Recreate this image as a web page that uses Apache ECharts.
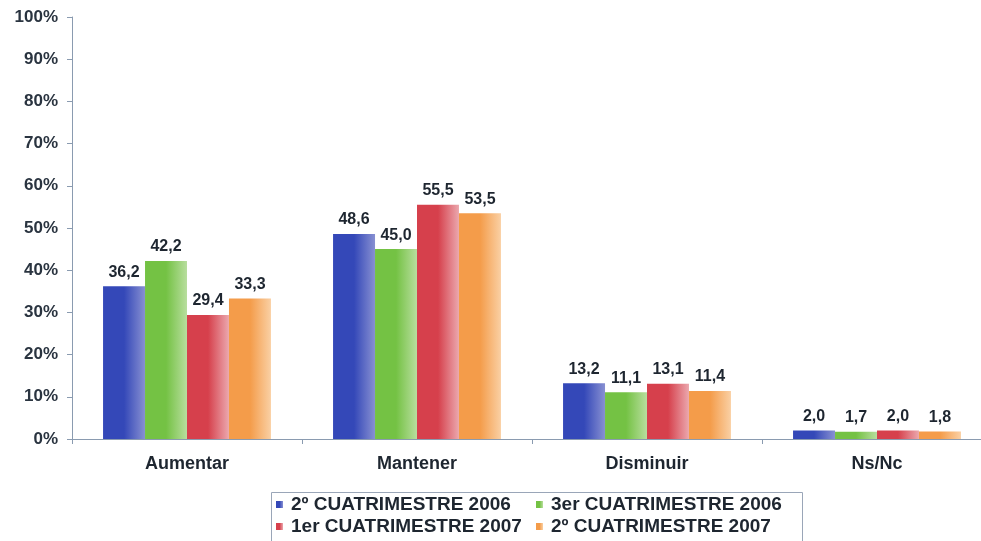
<!DOCTYPE html>
<html>
<head>
<meta charset="utf-8">
<script src="https://cdn.jsdelivr.net/npm/echarts@6/dist/echarts.min.js"></script>
<style>
  html, body { margin: 0; padding: 0; background: #fff; overflow: hidden; }
  #chart { width: 992px; height: 541px; }
</style>
</head>
<body>
<div id="chart"></div>
<script>
var categories = ['Aumentar', 'Mantener', 'Disminuir', 'Ns/Nc'];
var seriesNames = ['2º CUATRIMESTRE 2006', '3er CUATRIMESTRE 2006', '1er CUATRIMESTRE 2007', '2º CUATRIMESTRE 2007'];
var cuat2_2006 = [36.2, 48.6, 13.2, 2.0];
var cuat3_2006 = [42.2, 45.0, 11.1, 1.7];
var cuat1_2007 = [29.4, 55.5, 13.1, 2.0];
var cuat2_2007 = [33.3, 53.5, 11.4, 1.8];
var seriesValues = [cuat2_2006, cuat3_2006, cuat1_2007, cuat2_2007];

var colors = ['#3448b8', '#74c244', '#d6404c', '#f49c4a'];
var lightColors = ['#8890d2', '#b8de9e', '#eba8ae', '#fad0a4'];

function grad(i) {
	return new echarts.graphic.LinearGradient(0, 0, 1, 0, [
		{ offset: 0, color: colors[i] },
		{ offset: 0.5, color: colors[i] },
		{ offset: 1, color: lightColors[i] }
	]);
}

var seriesData = [];
seriesNames.forEach(function (name, i) {
	seriesData.push({
		name: name,
		type: 'bar',
		barGap: '0%',
		barCategoryGap: '27%',
		data: seriesValues[i],
		itemStyle: { color: grad(i) },
		label: {
			show: true,
			position: 'top',
			distance: 6,
			color: '#1e2630',
			fontSize: 16,
			fontWeight: 'bold',
			fontFamily: 'Liberation Sans',
			formatter: function (p) { return p.value.toFixed(1).replace('.', ','); }
		}
	});
});

// leyenda en dos columnas, una por elemento
var legendPos = [[276, 495], [536, 495], [276, 517], [536, 517]];
var legends = [];
seriesNames.forEach(function (name, i) {
	legends.push({
		data: [name],
		left: legendPos[i][0], top: legendPos[i][1], padding: 0,
		icon: 'rect', itemWidth: 7, itemHeight: 7, itemGap: 6,
		textStyle: { fontSize: 19, fontWeight: 'bold', color: '#1e2630', fontFamily: 'Liberation Sans', padding: [0, 0, 0, 3] }
	});
});

var chart = echarts.init(document.getElementById('chart'));
var option = {
	color: colors,
	animation: false,
	grid: { left: 72, top: 17, right: 0, bottom: 102 },
	legend: legends,
	graphic: [{
		type: 'rect', left: 269, top: 490,
		shape: { width: 531, height: 60 },
		style: { fill: 'none', stroke: '#9aa6b8', lineWidth: 1 }
	}],
	xAxis: {
		type: 'category',
		data: categories,
		axisLine: { lineStyle: { color: '#8a9bb0' } },
		axisTick: { show: true, length: 5, lineStyle: { color: '#8a9bb0' } },
		axisLabel: { fontSize: 18, fontWeight: 'bold', color: '#1e2630', margin: 16, fontFamily: 'Liberation Sans' }
	},
	yAxis: {
		type: 'value',
		min: 0, max: 100, interval: 10,
		axisLine: { show: true, lineStyle: { color: '#8a9bb0' } },
		axisTick: { show: true, length: 5, lineStyle: { color: '#8a9bb0' } },
		splitLine: { show: false },
		axisLabel: {
			fontSize: 17, fontWeight: 'bold', color: '#2a3440', margin: 14,
			fontFamily: 'Liberation Sans',
			formatter: '{value}%'
		}
	},
	series: seriesData
};
chart.setOption(option, true);
</script>
</body>
</html>
